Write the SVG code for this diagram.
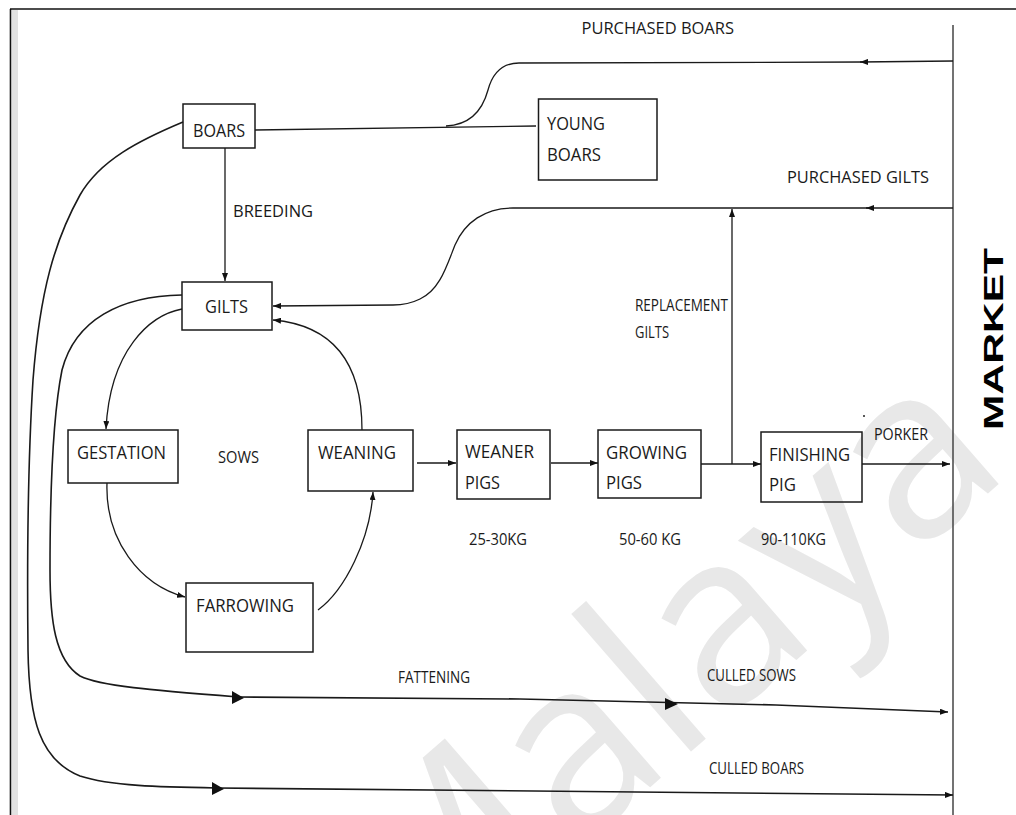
<svg xmlns="http://www.w3.org/2000/svg" width="1016" height="815" viewBox="0 0 1016 815">
<style>
.box{fill:none;stroke:#1a1a1a;stroke-width:1.5}
.ln{fill:none;stroke:#1a1a1a;stroke-width:1.3}
.lnb{fill:none;stroke:#1a1a1a;stroke-width:1.6}
.t{font-family:"Open Sans","Liberation Sans",sans-serif;font-size:19px;fill:#1a1a1a}
.s{font-family:"Open Sans","Liberation Sans",sans-serif;font-size:17px;fill:#1a1a1a}
.ah{fill:#111}
.wm{font-family:"Open Sans","Liberation Sans",sans-serif;font-size:240px;fill:#e8e8e8}
</style>
<defs>
<marker id="a" markerWidth="8" markerHeight="6" refX="8" refY="3" orient="auto" markerUnits="userSpaceOnUse"><path d="M0,0 L8,3 L0,6 z" fill="#111"/></marker>
</defs>
<rect width="1016" height="815" fill="#fff"/>
<text class="wm" transform="translate(412,994) rotate(-41)">Malaya</text>
<g id="frame">
<rect x="12" y="10" width="6" height="805" fill="#e2e2e2"/>
<line x1="10.5" y1="9" x2="10.5" y2="815" stroke="#111" stroke-width="1.6"/>
<line x1="10" y1="9" x2="1016" y2="9" stroke="#111" stroke-width="1.6"/>
<line x1="953" y1="25" x2="953" y2="815" stroke="#444" stroke-width="1.5"/>
<text transform="translate(1003,430) rotate(-90)" font-family="Liberation Sans,Arial,sans-serif" font-weight="bold" font-size="28" textLength="182" lengthAdjust="spacingAndGlyphs" fill="#000">MARKET</text>
</g>
<g id="connectors">
<path class="ln" d="M255,130 L536,126"/>
<path class="ln" d="M953,61 L860,62" marker-end="url(#a)"/>
<path class="ln" d="M862,62 L519,63 C500,63 492,75 488,90 C482,112 468,125 446,126"/>
<path class="ln" d="M225,148 L225,281" marker-end="url(#a)"/>
<path class="ln" d="M953,208 L866,208" marker-end="url(#a)"/>
<path class="ln" d="M868,208 L513,208 C485,208 465,222 455,245 C447,265 440,290 420,299 C410,304 400,305 393,305 L273,306" marker-end="url(#a)"/>
<path class="ln" d="M732,464 L732,209" marker-end="url(#a)"/>
<path class="ln" d="M182,309 C150,315 110,350 106,429" marker-end="url(#a)"/>
<path class="ln" d="M107,483 C105,540 140,585 185,597" marker-end="url(#a)"/>
<path class="ln" d="M318,610 C345,590 370,540 373,492" marker-end="url(#a)"/>
<path class="ln" d="M362,430 C362,360 330,325 273,320" marker-end="url(#a)"/>
<path class="ln" d="M417,463 L456,463" marker-end="url(#a)"/>
<path class="ln" d="M551,463 L598,463" marker-end="url(#a)"/>
<path class="ln" d="M701,464 L761,464" marker-end="url(#a)"/>
<path class="ln" d="M862,464 L950,464" marker-end="url(#a)"/>
<path class="lnb" d="M182,295 C120,296 75,320 62,370 C52,420 50,500 50,570 C50,620 55,660 80,676 C100,686 150,690 238,697 L520,699 L776,705 L948,712" marker-end="url(#a)"/>
<path class="lnb" d="M183,122 C140,140 100,160 80,195 C55,240 40,290 33,380 C28,460 27,560 28,650 C29,720 40,760 80,776 C110,786 160,787 217,788 L953,795" marker-end="url(#a)"/>
<polygon class="ah" points="232,691 244,698 232,704"/>
<polygon class="ah" points="212,782 224,789 212,795"/>
<polygon class="ah" points="665,698 678,704 665,710"/>
<circle cx="864" cy="416" r="1" fill="#222"/>
</g>
<g id="boars"><rect class="box" x="183" y="104" width="72" height="44"/><text class="t" x="193" y="137" textLength="52" lengthAdjust="spacingAndGlyphs">BOARS</text></g>
<g id="young-boars"><rect class="box" x="538.5" y="99" width="118.5" height="81"/><text class="t" x="547" y="130" textLength="58" lengthAdjust="spacingAndGlyphs">YOUNG</text><text class="t" x="547" y="161" textLength="54" lengthAdjust="spacingAndGlyphs">BOARS</text></g>
<g id="gilts"><rect class="box" x="182" y="282" width="90" height="48"/><text class="t" x="205" y="313" textLength="43" lengthAdjust="spacingAndGlyphs">GILTS</text></g>
<g id="gestation"><rect class="box" x="68" y="430" width="110" height="53"/><text class="t" x="77" y="459" textLength="89" lengthAdjust="spacingAndGlyphs">GESTATION</text></g>
<g id="weaning"><rect class="box" x="308" y="430" width="105" height="61"/><text class="t" x="318" y="459" textLength="78" lengthAdjust="spacingAndGlyphs">WEANING</text></g>
<g id="farrowing"><rect class="box" x="186" y="583" width="127" height="69"/><text class="t" x="196" y="612" textLength="98" lengthAdjust="spacingAndGlyphs">FARROWING</text></g>
<g id="weaner-pigs"><rect class="box" x="457" y="430" width="93" height="69"/><text class="t" x="465" y="458" textLength="69" lengthAdjust="spacingAndGlyphs">WEANER</text><text class="t" x="465" y="489" textLength="35" lengthAdjust="spacingAndGlyphs">PIGS</text></g>
<g id="growing-pigs"><rect class="box" x="598" y="430" width="103" height="68"/><text class="t" x="606" y="459" textLength="81" lengthAdjust="spacingAndGlyphs">GROWING</text><text class="t" x="606" y="489" textLength="36" lengthAdjust="spacingAndGlyphs">PIGS</text></g>
<g id="finishing-pig"><rect class="box" x="761" y="432" width="101" height="70"/><text class="t" x="769" y="461" textLength="81" lengthAdjust="spacingAndGlyphs">FINISHING</text><text class="t" x="769" y="491" textLength="27" lengthAdjust="spacingAndGlyphs">PIG</text></g>
<g id="labels">
<text class="s" x="233" y="217" textLength="80" lengthAdjust="spacingAndGlyphs">BREEDING</text>
<text class="s" x="218" y="463" textLength="41" lengthAdjust="spacingAndGlyphs">SOWS</text>
<text class="s" x="469" y="545" textLength="58" lengthAdjust="spacingAndGlyphs">25-30KG</text>
<text class="s" x="619" y="545" textLength="62" lengthAdjust="spacingAndGlyphs">50-60 KG</text>
<text class="s" x="761" y="545" textLength="65" lengthAdjust="spacingAndGlyphs">90-110KG</text>
<text class="s" x="635" y="311" textLength="93" lengthAdjust="spacingAndGlyphs">REPLACEMENT</text>
<text class="s" x="635" y="338" textLength="34" lengthAdjust="spacingAndGlyphs">GILTS</text>
<text class="s" x="874" y="440" textLength="54" lengthAdjust="spacingAndGlyphs">PORKER</text>
<text class="s" x="581.5" y="34" textLength="152.5" lengthAdjust="spacingAndGlyphs">PURCHASED BOARS</text>
<text class="s" x="787" y="183" textLength="142" lengthAdjust="spacingAndGlyphs">PURCHASED GILTS</text>
<text class="s" x="398" y="683" textLength="72" lengthAdjust="spacingAndGlyphs">FATTENING</text>
<text class="s" x="707" y="681" textLength="89" lengthAdjust="spacingAndGlyphs">CULLED SOWS</text>
<text class="s" x="709" y="774" textLength="95" lengthAdjust="spacingAndGlyphs">CULLED BOARS</text>
</g>
</svg>
